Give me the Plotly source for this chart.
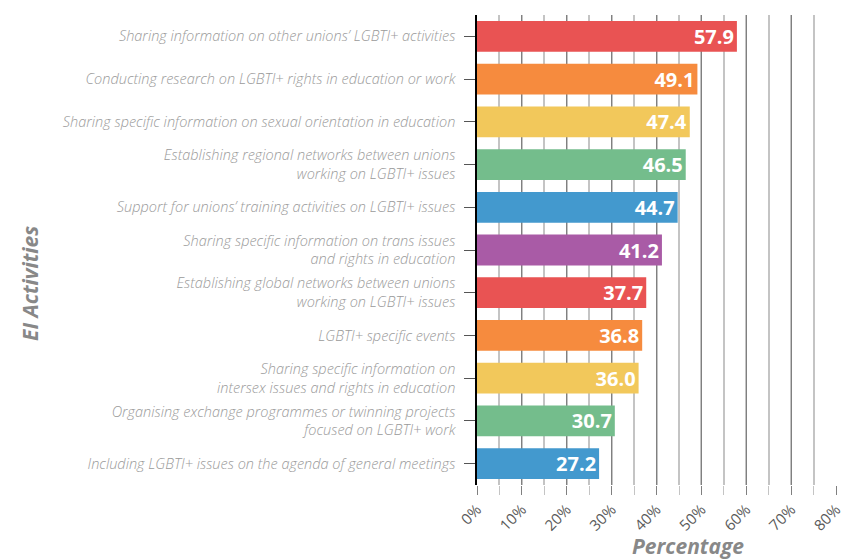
import plotly.graph_objects as go

activities = [
    "Sharing information on other unions\u2019 LGBTI+ activities",
    "Conducting research on LGBTI+ rights in education or work",
    "Sharing specific information on sexual orientation in education",
    "Establishing regional networks between unions<br>working on LGBTI+ issues",
    "Support for unions\u2019 training activities on LGBTI+ issues",
    "Sharing specific information on trans issues<br>and rights in education",
    "Establishing global networks between unions<br>working on LGBTI+ issues",
    "LGBTI+ specific events",
    "Sharing specific information on<br>intersex issues and rights in education",
    "Organising exchange programmes or twinning projects<br>focused on LGBTI+ work",
    "Including LGBTI+ issues on the agenda of general meetings",
]
percentages = [57.9, 49.1, 47.4, 46.5, 44.7, 41.2, 37.7, 36.8, 36.0, 30.7, 27.2]

_RED = "#e95353"
_ORANGE = "#f68b3e"
_YELLOW = "#f2c85b"
_GREEN = "#74bd8c"
_BLUE = "#4399ce"
_PURPLE = "#a95ba6"
bar_colors = [_RED, _ORANGE, _YELLOW, _GREEN, _BLUE, _PURPLE,
              _RED, _ORANGE, _YELLOW, _GREEN, _BLUE]

x_ticks = list(range(0, 81, 10))
x_labels = [f"{t}%" for t in x_ticks]

FONT = "Open Sans"

# plot area in pixels
W, H = 849, 559
L, R, T, B = 477, 12, 15, 74
plot_w = W - L - R
plot_h = H - T - B

fig = go.Figure(
    go.Bar(
        x=percentages,
        y=activities,
        orientation="h",
        marker={"color": bar_colors, "line": {"width": 0}},
        width=0.72,
        text=[f"{v:.1f}" for v in percentages],
        textposition="inside",
        insidetextanchor="end",
        constraintext="none",
        textfont={"family": FONT, "size": 20, "color": "white", "weight": "bold"},
        hoverinfo="skip",
    )
)

fig.update_layout(
    width=W,
    height=H,
    paper_bgcolor="white",
    plot_bgcolor="white",
    margin={"l": L, "r": R, "t": T, "b": B},
    showlegend=False,
    font={"family": FONT},
    xaxis={
        "automargin": False,
        "range": [0, 80.2],
        "tickvals": x_ticks,
        "ticktext": x_labels,
        "tickangle": -45,
        "tickfont": {"family": FONT, "size": 15, "color": "#5a5a5a"},
        "ticks": "outside",
        "ticklen": 9,
        "tickcolor": "#808080",
        "showgrid": True,
        "gridcolor": "#808080",
        "gridwidth": 1,
        "zeroline": False,
        "minor": {
            "dtick": 5,
            "tick0": 0,
            "showgrid": True,
            "gridcolor": "#c4c4c4",
            "gridwidth": 1.5,
            "ticks": "outside",
            "ticklen": 9,
            "tickcolor": "#c4c4c4",
        },
    },
    yaxis={
        "automargin": False,
        "autorange": "reversed",
        "showline": True,
        "linecolor": "black",
        "linewidth": 1.5,
        "ticks": "outside",
        "ticklen": 11,
        "tickcolor": "#555555",
        "ticklabelstandoff": 6,
        "tickfont": {"family": FONT, "size": 14.5, "color": "#9a9a9a",
                     "style": "italic", "weight": 300},
        "showgrid": False,
    },
    annotations=[
        {
            "text": "EI Activities",
            "x": (30 - L) / plot_w, "y": 1 - (284 - T) / plot_h,
            "xref": "paper", "yref": "paper",
            "xanchor": "center", "yanchor": "middle",
            "showarrow": False,
            "textangle": -90,
            "font": {"family": FONT, "size": 21, "color": "#888888",
                     "style": "italic", "weight": "bold"},
        },
        {
            "text": "Percentage",
            "x": (688 - L) / plot_w, "y": -(546 - (H - B)) / plot_h,
            "xref": "paper", "yref": "paper",
            "xanchor": "center", "yanchor": "middle",
            "showarrow": False,
            "font": {"family": FONT, "size": 21, "color": "#888888",
                     "style": "italic", "weight": "bold"},
        },
    ],
)

# drop the default body margin so the figure sits at the page origin
fig.write_html(
    "out.html",
    config={"displayModeBar": False},
    post_script="document.body.style.margin='0';",
)
